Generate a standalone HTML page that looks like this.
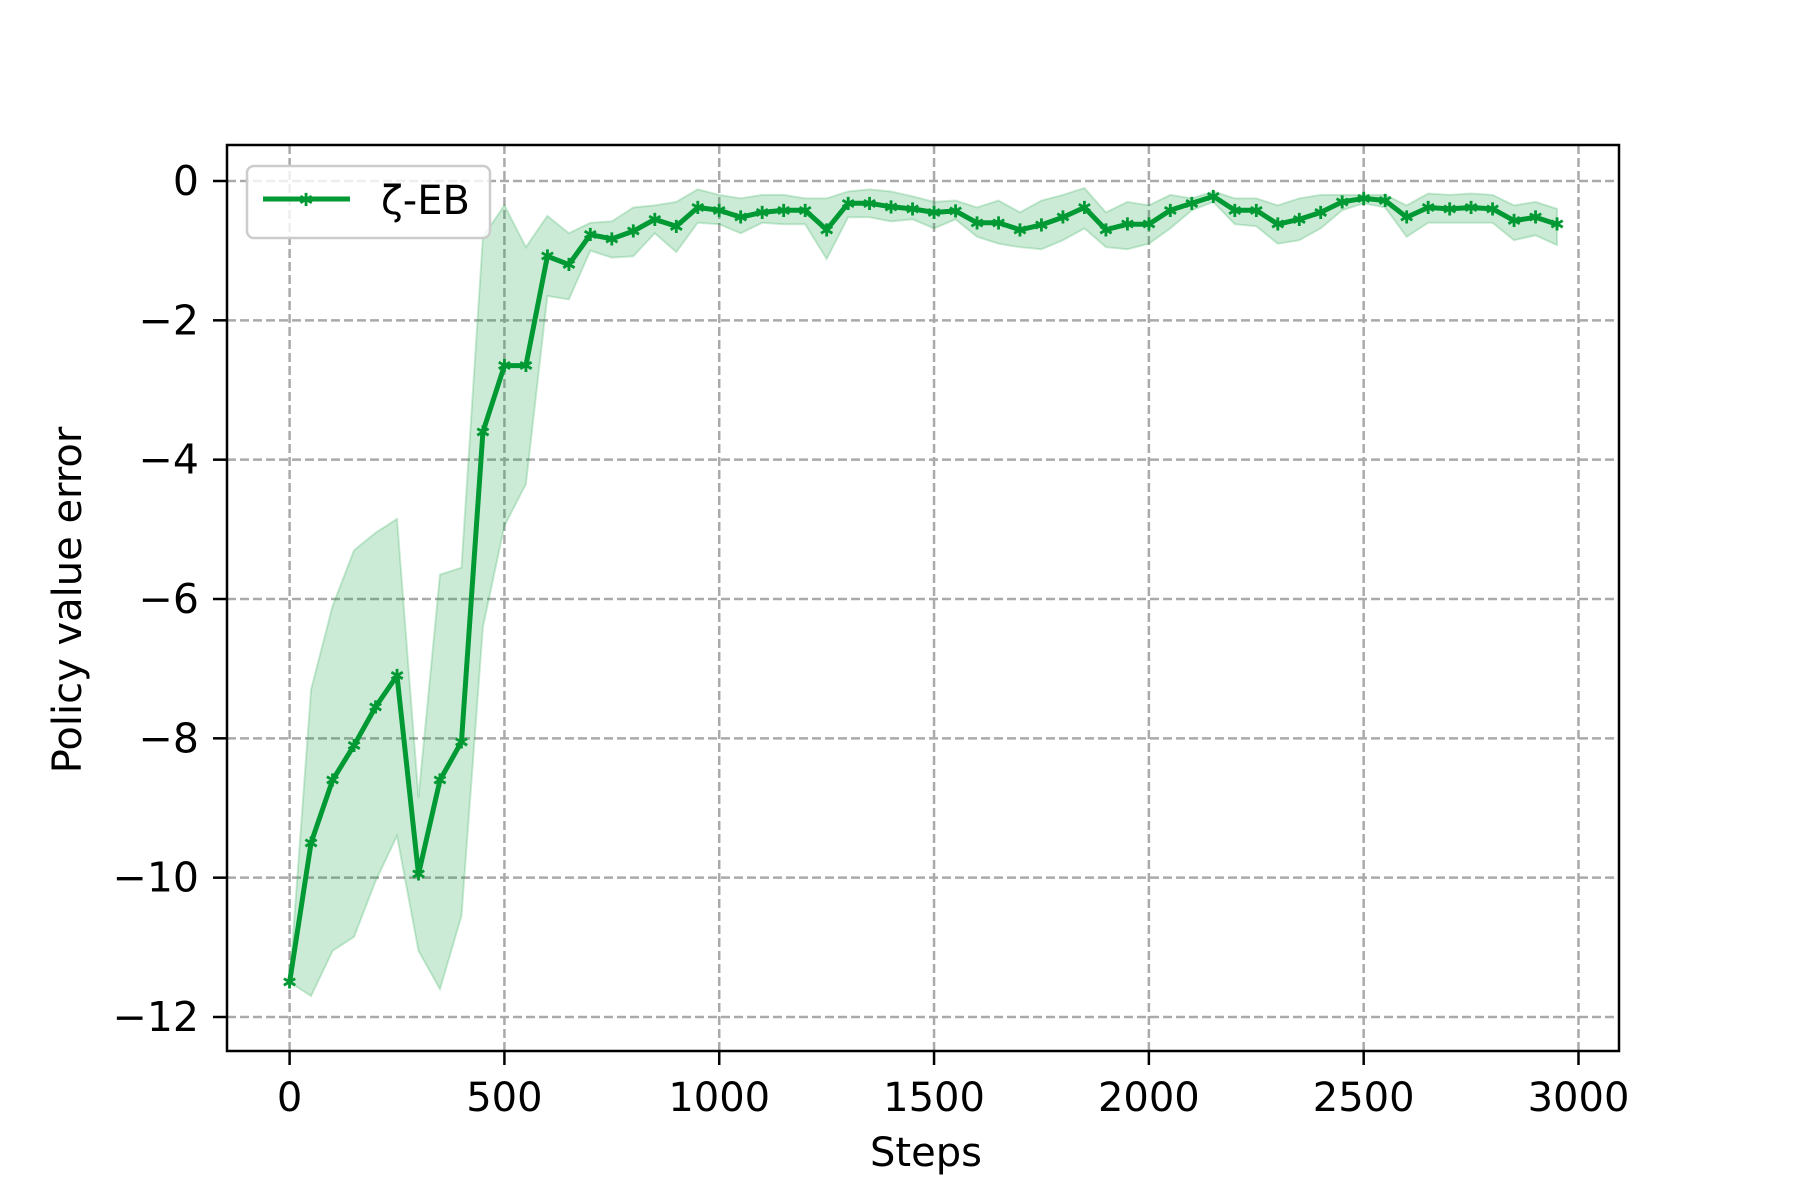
<!DOCTYPE html>
<html><head><meta charset="utf-8"><style>
html,body{margin:0;padding:0;background:#fff}
svg{display:block}
text{font-family:"DejaVu Sans","Liberation Sans",sans-serif;fill:#000}
</style></head><body>
<svg id="chart" width="1800" height="1200" xmlns="http://www.w3.org/2000/svg">
<rect width="1800" height="1200" fill="#fff"/>
<g id="grid"></g>
<g id="band"></g>
<g id="series"></g>
<rect x="227" y="145" width="1392" height="906" fill="none" stroke="#000" stroke-width="2.5"/>
<g id="xticks"></g>
<g id="yticks"></g>
<text x="926" y="1166" font-size="40" text-anchor="middle">Steps</text>
<text x="0" y="0" font-size="40" text-anchor="middle" transform="translate(81,600) rotate(-90)">Policy value error</text>
<g>
<rect x="247" y="166" width="243" height="72" rx="7" fill="#fff" fill-opacity="0.8" stroke="#ccc" stroke-width="2.5"/>
<line x1="263" y1="199" x2="350" y2="199" stroke="#009933" stroke-width="5"/>
<text x="306" y="206" font-size="18" text-anchor="middle" style="fill:#009933">✱</text>
<text x="381" y="214" font-size="40">ζ-EB</text>
</g>
</svg>
<script>
const steps=[];for(let i=0;i<60;i++)steps.push(i*50);
const meanVals=[-11.5,-9.5,-8.6,-8.1,-7.55,-7.1,-9.95,-8.6,-8.05,-3.6,-2.65,-2.65,-1.08,-1.2,-0.77,-0.83,-0.72,-0.55,-0.65,-0.38,-0.42,-0.52,-0.45,-0.42,-0.42,-0.7,-0.32,-0.32,-0.37,-0.4,-0.45,-0.43,-0.6,-0.6,-0.7,-0.63,-0.52,-0.38,-0.7,-0.62,-0.62,-0.42,-0.32,-0.22,-0.42,-0.42,-0.62,-0.55,-0.45,-0.3,-0.25,-0.28,-0.52,-0.38,-0.4,-0.38,-0.4,-0.57,-0.52,-0.62];
const upperVals=[-11.5,-7.3,-6.1,-5.3,-5.05,-4.85,-8.85,-5.65,-5.55,-0.8,-0.35,-0.95,-0.5,-0.75,-0.6,-0.58,-0.38,-0.35,-0.3,-0.12,-0.2,-0.25,-0.2,-0.2,-0.25,-0.25,-0.15,-0.12,-0.15,-0.22,-0.3,-0.28,-0.38,-0.28,-0.45,-0.28,-0.2,-0.1,-0.45,-0.3,-0.35,-0.2,-0.25,-0.15,-0.25,-0.25,-0.35,-0.25,-0.2,-0.2,-0.2,-0.2,-0.35,-0.18,-0.2,-0.18,-0.2,-0.35,-0.3,-0.4];
const lowerVals=[-11.5,-11.7,-11.05,-10.85,-10.05,-9.4,-11.05,-11.6,-10.55,-6.4,-4.95,-4.35,-1.65,-1.7,-1.0,-1.1,-1.08,-0.75,-1.02,-0.6,-0.62,-0.75,-0.6,-0.62,-0.62,-1.12,-0.52,-0.52,-0.58,-0.55,-0.68,-0.55,-0.8,-0.9,-0.95,-0.98,-0.85,-0.68,-0.95,-0.98,-0.9,-0.68,-0.42,-0.3,-0.62,-0.65,-0.9,-0.85,-0.68,-0.42,-0.32,-0.38,-0.8,-0.6,-0.6,-0.6,-0.6,-0.85,-0.78,-0.92];
const xTicks=[0,500,1000,1500,2000,2500,3000];
const yTicks=[0,-2,-4,-6,-8,-10,-12];
const yTickLabels=["0","−2","−4","−6","−8","−10","−12"];
const NS="http://www.w3.org/2000/svg";
const X=v=>289.6+v*(1578.5-289.6)/3000;
const Y=v=>181+(-v)*(1017-181)/12;
function mk(t,a,p){const e=document.createElementNS(NS,t);for(const k in a)e.setAttribute(k,a[k]);p.appendChild(e);return e;}
const grid=document.getElementById('grid'),xt=document.getElementById('xticks'),yt=document.getElementById('yticks');
xTicks.forEach(v=>{
 const g=mk('line',{x1:X(v),x2:X(v),y1:145,y2:1051,stroke:'#aaaaaa','stroke-width':2.5,'stroke-dasharray':'9,4'},grid);
 
 
 const t=mk('line',{x1:X(v),x2:X(v),y1:1051,y2:1065,stroke:'#000','stroke-width':2.5},xt);
 
 
 const l=mk('text',{x:X(v),y:1111,'font-size':40,'text-anchor':'middle'},xt);l.textContent=String(v);
 
 
});
yTicks.forEach((v,i)=>{
 const g=mk('line',{x1:227,x2:1619,y1:Y(v),y2:Y(v),stroke:'#aaaaaa','stroke-width':2.5,'stroke-dasharray':'9,4'},grid);
 
 
 const t=mk('line',{x1:213,x2:227,y1:Y(v),y2:Y(v),stroke:'#000','stroke-width':2.5},yt);
 
 
 const l=mk('text',{x:199,y:Y(v)+14,'font-size':41,'text-anchor':'end'},yt);l.textContent=yTickLabels[i];
 
 
});
let d='';steps.forEach((s,i)=>{d+=(i?'L':'M')+X(s)+','+Y(upperVals[i]);});
for(let i=steps.length-1;i>=0;i--)d+='L'+X(steps[i])+','+Y(lowerVals[i]);d+='Z';
const band=mk('path',{d:d,fill:'#009933','fill-opacity':0.2,stroke:'#009933','stroke-opacity':0.2,'stroke-width':2},document.getElementById('band'));


const ser=document.getElementById('series');
const line=mk('polyline',{points:steps.map((s,i)=>X(s)+','+Y(meanVals[i])).join(' '),fill:'none',stroke:'#009933','stroke-width':5,'stroke-linejoin':'round'},ser);


steps.forEach((s,i)=>{
 const m=mk('text',{x:X(s),y:Y(meanVals[i])+6.5,'font-size':18,'text-anchor':'middle',style:'fill:#009933'},ser);m.textContent='✱';
 
 
});
</script>
</body></html>
